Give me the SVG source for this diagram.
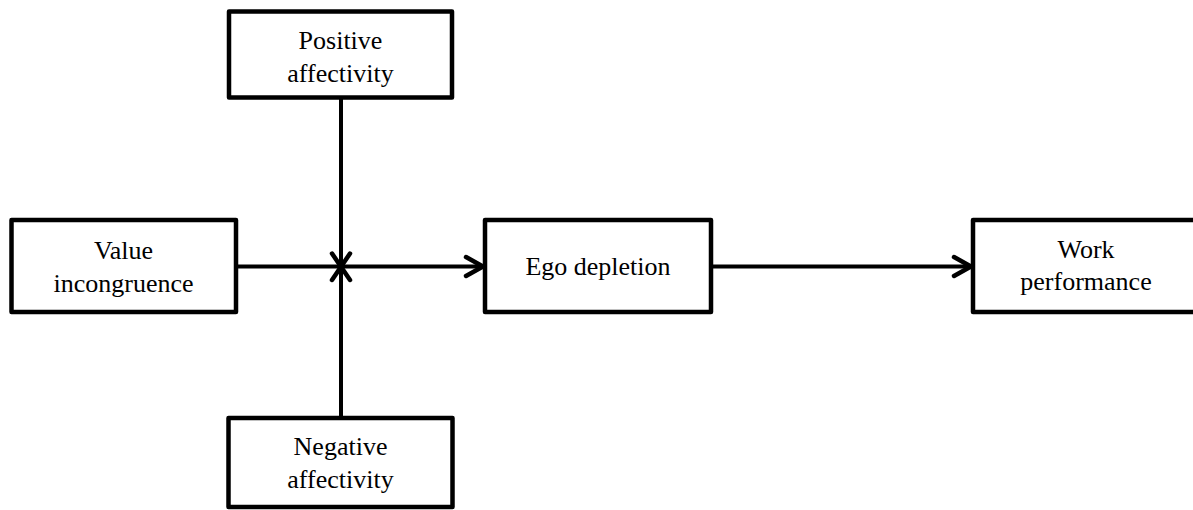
<svg xmlns="http://www.w3.org/2000/svg" width="1193" height="510" viewBox="0 0 1193 510">
  <style>
    .box { fill: #ffffff; stroke: #000000; stroke-width: 4.5; stroke-linejoin: round; }
    .lbl { font-family: "Liberation Serif", "Times New Roman", serif; font-size: 26px; fill: #000000; text-anchor: middle; }
    .line { stroke: #000000; stroke-width: 4; fill: none; stroke-linecap: butt; }
    .head { stroke: #000000; stroke-width: 4.5; fill: none; stroke-linecap: round; stroke-linejoin: miter; }
  </style>
  <rect width="1193" height="510" fill="#ffffff"/>
  <g id="connectors">
    <line class="line" x1="341" y1="98" x2="341" y2="418"/>
    <line class="line" x1="236" y1="266.5" x2="483" y2="266.5"/>
    <polyline class="head" points="466,257 483,266.5 466,276"/>
    <line class="line" x1="711" y1="266.5" x2="971" y2="266.5"/>
    <polyline class="head" points="954,257 971,266.5 954,276"/>
    <line class="head" x1="332" y1="253.5" x2="350" y2="280"/>
    <line class="head" x1="350" y1="253.5" x2="332" y2="280"/>
  </g>
  <g id="positive">
    <rect class="box" x="229" y="11.5" width="223" height="86"/>
    <text class="lbl" x="340.5" y="49">Positive</text>
    <text class="lbl" x="340.5" y="82">affectivity</text>
  </g>
  <g id="value">
    <rect class="box" x="11.5" y="220" width="224.5" height="92"/>
    <text class="lbl" x="123.5" y="259">Value</text>
    <text class="lbl" x="123.5" y="292">incongruence</text>
  </g>
  <g id="ego">
    <rect class="box" x="485" y="220" width="226" height="92"/>
    <text class="lbl" x="598" y="275">Ego depletion</text>
  </g>
  <g id="work">
    <rect class="box" x="973" y="220" width="227" height="92"/>
    <text class="lbl" x="1086" y="258">Work</text>
    <text class="lbl" x="1086" y="290">performance</text>
  </g>
  <g id="negative">
    <rect class="box" x="228.5" y="418" width="224" height="89"/>
    <text class="lbl" x="340.5" y="455">Negative</text>
    <text class="lbl" x="340.5" y="488">affectivity</text>
  </g>
</svg>
